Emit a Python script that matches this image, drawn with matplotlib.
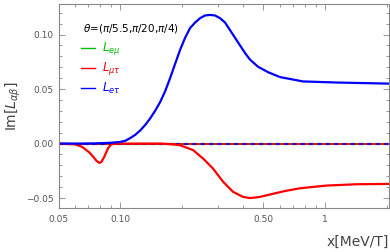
import matplotlib
matplotlib.use("Agg")
import matplotlib.pyplot as plt
from matplotlib.ticker import FixedLocator, NullFormatter, MultipleLocator, LogLocator
import numpy as np

# data
x_et = [0.05, 0.0638, 0.0755, 0.0894, 0.100, 0.1058, 0.1119, 0.1184, 0.1252, 0.1324, 0.140,
        0.1481, 0.1567, 0.1658, 0.1753, 0.1854, 0.1962, 0.2075, 0.2195, 0.2322, 0.2455,
        0.2597, 0.2748, 0.2906, 0.3074, 0.3252, 0.344, 0.3639, 0.385, 0.4073, 0.4307,
        0.471, 0.527, 0.603, 0.781, 1.145, 2.05]
y_et = [0.0, 0.0, 0.0002, 0.0007, 0.0015, 0.0025, 0.005, 0.008, 0.012, 0.017, 0.023,
        0.030, 0.038, 0.048, 0.060, 0.073, 0.086, 0.097, 0.106, 0.111, 0.115,
        0.1175, 0.118, 0.1175, 0.115, 0.111, 0.104, 0.097, 0.090, 0.083, 0.077,
        0.0705, 0.0655, 0.061, 0.057, 0.056, 0.055]

x_mt = [0.05, 0.0603, 0.0652, 0.0706, 0.0738, 0.0764, 0.079, 0.0808, 0.0835, 0.0855,
        0.0874, 0.0901, 0.0935, 0.1567, 0.1753, 0.196, 0.227, 0.254, 0.284, 0.318,
        0.356, 0.398, 0.4307, 0.482, 0.539, 0.638, 0.755, 1.019, 1.428, 2.05]
y_mt = [0.0, -0.0007, -0.003, -0.008, -0.012, -0.0155, -0.0177, -0.017, -0.0125, -0.008,
        -0.004, -0.001, 0.0, 0.0, -0.0005, -0.0015, -0.006, -0.0137, -0.0229, -0.035,
        -0.0443, -0.0489, -0.0500, -0.0489, -0.0467, -0.0435, -0.041, -0.0385, -0.0373, -0.037]

x_zero = [0.05, 2.05]
y_zero = [0.0, 0.0]

xticks = [0.05, 0.10, 0.50, 1]
xticklabels = ["0.05", "0.10", "0.50", "1"]
yticks = [-0.05, 0.00, 0.05, 0.10]
yticklabels = ["\u22120.05", "0.00", "0.05", "0.10"]

title = r"$\theta$=($\pi$/5.5,$\pi$/20,$\pi$/4)"
labels = [r"$L_{e\mu}$", r"$L_{\mu\tau}$", r"$L_{e\tau}$"]

fig = plt.figure(figsize=(3.9, 2.52), dpi=100)
ax = fig.add_axes([0.150, 0.175, 0.847, 0.809])

green = "#00c000"
red = "#ff0000"
blue = "#0000ff"
colors = [green, red, blue]

ax.plot(x_zero, y_zero, color=green, lw=1.5)
ax.plot(x_zero, y_zero, color=red, lw=1.5, alpha=0.8)
ax.plot(x_zero, y_zero, color=blue, lw=1.5, ls=(0, (2, 2)), alpha=0.8)
ax.plot(x_mt, y_mt, color=red, lw=1.6, solid_joinstyle="round")
ax.plot(x_et, y_et, color=blue, lw=1.6, solid_joinstyle="round")

ax.set_xscale("log")
ax.set_xlim(0.05, 2.05)
ax.set_ylim(-0.059, 0.128)

gray = "#888888"
ax.xaxis.set_major_locator(FixedLocator(xticks))
ax.set_xticklabels(xticklabels)
ax.xaxis.set_minor_locator(LogLocator(base=10, subs=np.arange(2, 10)))
ax.xaxis.set_minor_formatter(NullFormatter())
ax.yaxis.set_major_locator(FixedLocator(yticks))
ax.set_yticklabels(yticklabels)
ax.yaxis.set_minor_locator(MultipleLocator(0.01))

for side in ax.spines.values():
    side.set_color(gray)
    side.set_linewidth(0.8)
ax.tick_params(which="both", direction="in", top=True, right=True, colors=gray,
               labelcolor="#555555", labelsize=6.5, width=0.6)
ax.tick_params(which="major", length=4)
ax.tick_params(which="minor", length=2)
ax.tick_params(axis="x", which="major", pad=5)

ax.set_xlabel("x[MeV/T]", fontsize=10, color="#444444", loc="right", labelpad=8)
ax.set_ylabel(r"Im[$L_{\alpha\beta}$]", fontsize=10, color="#444444", labelpad=2)

ax.text(0.074, 0.88, title, transform=ax.transAxes, fontsize=7.5, color="black",
        va="center", ha="left")
ypos = [0.784, 0.686, 0.588]
for lab, col, yy in zip(labels, colors, ypos):
    ax.plot([0.068, 0.11], [yy, yy], transform=ax.transAxes, color=col, lw=1.0)
    ax.text(0.132, yy, lab, transform=ax.transAxes, fontsize=8.5, color=col, va="center", ha="left")

fig.savefig("out.png", dpi=100)
